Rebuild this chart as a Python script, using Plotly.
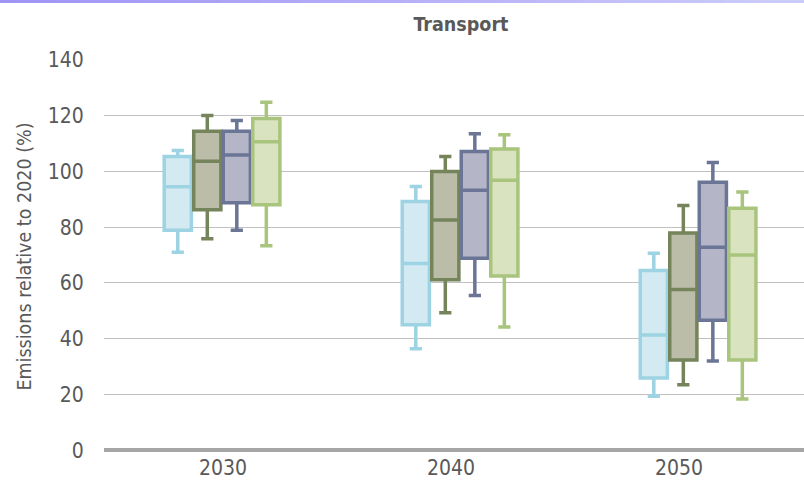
import plotly.graph_objects as go

# ---------------- data ----------------
years = ["2030", "2040", "2050"]
series_names = ["Series A", "Series B", "Series C", "Series D"]

lower_a = [71.0, 36.4, 19.4]
q1_a = [78.9, 45.0, 25.9]
median_a = [94.5, 67.0, 41.3]
q3_a = [105.4, 89.2, 64.5]
upper_a = [107.5, 94.6, 70.7]

lower_b = [75.9, 49.3, 23.5]
q1_b = [86.3, 61.2, 32.4]
median_b = [103.7, 82.6, 57.7]
q3_b = [114.4, 100.0, 77.9]
upper_b = [120.1, 105.4, 87.8]

lower_c = [78.9, 55.5, 32.0]
q1_c = [88.8, 68.9, 46.6]
median_c = [105.9, 93.3, 72.8]
q3_c = [114.4, 107.2, 96.1]
upper_c = [118.3, 113.5, 103.2]

lower_d = [73.4, 44.2, 18.4]
q1_d = [88.1, 62.5, 32.4]
median_d = [110.7, 96.9, 70.0]
q3_d = [119.0, 108.1, 86.8]
upper_d = [124.8, 113.2, 92.6]

y_ticks = [0, 20, 40, 60, 80, 100, 120, 140]

# ---------------- styles ----------------
line_colors = ["#9dd3e2", "#75845a", "#6b7596", "#a9c47d"]
fill_colors = ["#d3eaf2", "#bbbda8", "#b4b6c8", "#d9e3c0"]
FONT = "Liberation Sans Narrow, Arial Narrow, DejaVu Sans Condensed, sans-serif"
TXT = "#595959"

stats = [
    (lower_a, q1_a, median_a, q3_a, upper_a),
    (lower_b, q1_b, median_b, q3_b, upper_b),
    (lower_c, q1_c, median_c, q3_c, upper_c),
    (lower_d, q1_d, median_d, q3_d, upper_d),
]

positions = list(range(len(years)))

fig = go.Figure()
for i, (lf, q1, md, q3, uf) in enumerate(stats):
    fig.add_trace(go.Box(
        name=series_names[i],
        x=positions,
        lowerfence=lf, q1=q1, median=md, q3=q3, upperfence=uf,
        boxpoints=False,
        line=dict(color=line_colors[i], width=3.5),
        fillcolor=fill_colors[i],
        whiskerwidth=0.45,
        showlegend=False,
        hoverinfo="skip",
    ))

# empty helper trace so the label axis is drawn
fig.add_trace(go.Scatter(x=[], y=[], xaxis="x2", yaxis="y", showlegend=False, hoverinfo="skip"))

# top gradient band (decoration)
n = 40
c0 = (160, 148, 245)
c1 = (204, 204, 250)
for k in range(n):
    t = k / (n - 1)
    col = "rgb(%d,%d,%d)" % tuple(round(c0[j] + (c1[j] - c0[j]) * t) for j in range(3))
    fig.add_shape(type="rect", xref="paper", yref="paper",
                  x0=-0.1486 + k * (1.1486 / n), x1=-0.1486 + (k + 1) * (1.1486 / n) + 0.002,
                  y0=1.145, y1=1.17, fillcolor=col, line=dict(width=0), layer="above")

fig.update_layout(
    template="none",
    width=804, height=484,
    margin=dict(l=104, r=0, t=60, b=31, autoexpand=False),
    paper_bgcolor="white", plot_bgcolor="white",
    boxmode="group", boxgap=0.504, boxgroupgap=0.08,
    font=dict(family=FONT, color=TXT),
    title=dict(text="<b>Transport</b>", x=461 / 804, xanchor="center",
               y=1 - 24 / 484, yanchor="middle", yref="container",
               font=dict(size=19.5, color=TXT, family=FONT)),
    xaxis=dict(range=[-0.496, 2.445], showticklabels=False, showgrid=False,
               zeroline=False, ticks="", showline=False, automargin=False),
    xaxis2=dict(overlaying="x", anchor="y", side="bottom",
                range=[-0.522, 2.548], tickmode="array",
                tickvals=positions, ticktext=years, automargin=False,
                showgrid=False, zeroline=False, showline=False, ticks="",
                tickfont=dict(size=21, color=TXT, family=FONT)),
    yaxis=dict(range=[-1, 140], tickmode="array", tickvals=y_ticks, automargin=False,
               showgrid=True, gridcolor="#c0c0c0", gridwidth=1.3,
               zeroline=True, zerolinecolor="#a6a6a6", zerolinewidth=4,
               showline=False,
               ticks="outside", ticklen=15, tickcolor="rgba(0,0,0,0)",
               tickfont=dict(size=21, color=TXT, family=FONT),
               title=dict(text="Emissions relative to 2020 (%)",
                          font=dict(size=19.5, color=TXT, family=FONT),
                          standoff=10)),
)

fig.write_html(
    "out.html",
    config={"displayModeBar": False},
    post_script="document.body.style.margin='0';document.body.style.padding='0';"
                "document.body.style.overflow='hidden';",
)
